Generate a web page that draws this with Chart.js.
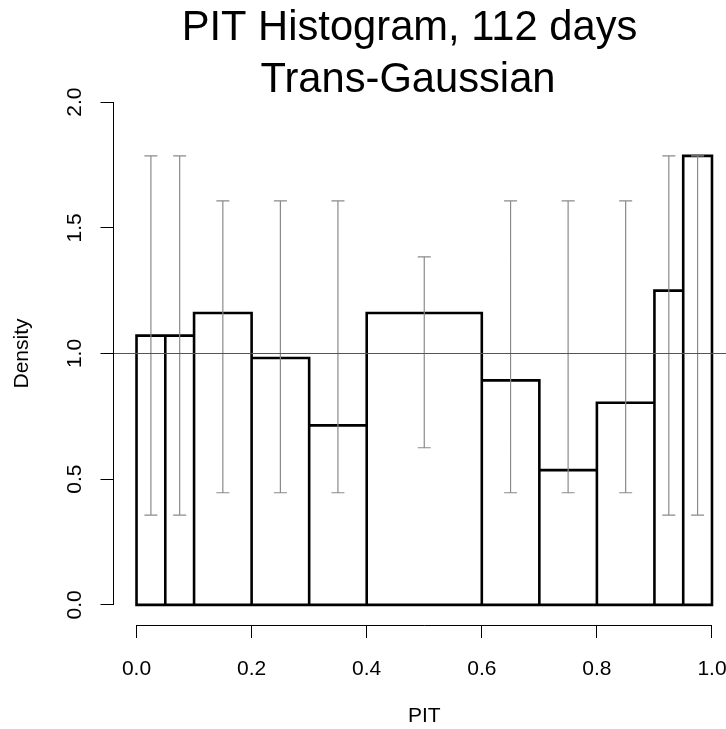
<!DOCTYPE html>
<html>
<head>
<meta charset="utf-8">
<title>PIT Histogram</title>
<script src="https://cdn.jsdelivr.net/npm/chart.js@4/dist/chart.umd.min.js"></script>
<style>
    html, body { margin: 0; padding: 0; background: #fff; overflow: hidden; }
    .pit-plot { position: relative; width: 726px; height: 729px; overflow: hidden; }
    .pit-plot canvas { position: absolute; left: 0; top: 0; }
</style>
</head>
<body>
<div class="pit-plot"><canvas id="pit" width="760" height="729"></canvas></div>
<script>
// bin edges (the bins are not all the same width)
const breaks = [0, 0.05, 0.1, 0.2, 0.3, 0.4, 0.6, 0.7, 0.8, 0.9, 0.95, 1.0]
// density of each bin
const density = [1.071, 1.071, 1.161, 0.982, 0.714, 1.161, 0.893, 0.536, 0.804, 1.25, 1.786]
// gray bands drawn at each bin centre
const bandLower = [0.357, 0.357, 0.446, 0.446, 0.446, 0.625, 0.446, 0.446, 0.446, 0.357, 0.357]
const bandUpper = [1.786, 1.786, 1.607, 1.607, 1.607, 1.384, 1.607, 1.607, 1.607, 1.786, 1.786]
const refLevel = 1
const xTicks = [0, 0.2, 0.4, 0.6, 0.8, 1.0]
const yTicks = [0, 0.5, 1.0, 1.5, 2.0]
const titleLines = ['PIT Histogram, 112 days', 'Trans-Gaussian']

const FONT = '"Liberation Sans", Arial, Helvetica, sans-serif'
const CAP_HALF = 0.0113  // half width of the band caps, in x units


/**
 * outline of every bin, walked as one path, then back along the baseline
 * @return {{x: number, y: number}[]}
 */
function histogramPath() {
    const points = []
    density.forEach((d, i) => {
        points.push({x: breaks[i], y: 0})
        points.push({x: breaks[i], y: d})
        points.push({x: breaks[i + 1], y: d})
        points.push({x: breaks[i + 1], y: 0})
    })
    points.push({x: breaks[0], y: 0})
    return points
}

/**
 * vertical band with a cap at each end, broken apart by null points
 * @return {{x: number, y: number | null}[]}
 */
function bandPath() {
    const points = []
    density.forEach((d, i) => {
        const mid = (breaks[i] + breaks[i + 1]) / 2
        points.push({x: mid, y: bandLower[i]}, {x: mid, y: bandUpper[i]}, {x: mid, y: null})
        points.push({x: mid - CAP_HALF, y: bandLower[i]}, {x: mid + CAP_HALF, y: bandLower[i]}, {x: mid, y: null})
        points.push({x: mid - CAP_HALF, y: bandUpper[i]}, {x: mid + CAP_HALF, y: bandUpper[i]}, {x: mid, y: null})
    })
    return points
}


// R style axes: the line only runs from the first tick to the last one
const axisLines = {
    id: 'axisLines',
    afterDraw(chart) {
        const {ctx, chartArea, scales: {x, y}} = chart
        ctx.save()
        ctx.strokeStyle = '#000'
        ctx.lineWidth = 1
        ctx.beginPath()
        const yb = Math.round(chartArea.bottom) + 0.5
        ctx.moveTo(x.getPixelForValue(xTicks[0]), yb)
        ctx.lineTo(x.getPixelForValue(xTicks[xTicks.length - 1]), yb)
        const xl = Math.round(chartArea.left) - 0.5
        ctx.moveTo(xl, y.getPixelForValue(yTicks[0]))
        ctx.lineTo(xl, y.getPixelForValue(yTicks[yTicks.length - 1]))
        ctx.stroke()
        ctx.restore()
    }
}

// two line main title, centred where the original has it
const mainTitle = {
    id: 'mainTitle',
    afterDraw(chart) {
        const {ctx} = chart
        ctx.save()
        ctx.fillStyle = '#000'
        ctx.font = '41.7px ' + FONT
        ctx.textAlign = 'center'
        ctx.textBaseline = 'alphabetic'
        ctx.fillText(titleLines[0], 409.5, 40)
        ctx.fillText(titleLines[1], 408, 91.5)
        ctx.restore()
    }
}


new Chart(document.getElementById('pit'), {
    type: 'scatter',
    data: {
        datasets: [
            {
                label: 'reference',
                data: [{x: -0.04, y: refLevel}, {x: 1.04, y: refLevel}],
                showLine: true,
                borderColor: '#555555',
                borderWidth: 1,
                pointRadius: 0,
            },
            {
                label: 'band',
                data: bandPath(),
                showLine: true,
                spanGaps: false,
                borderColor: '#8a8a8a',
                borderWidth: 1.2,
                pointRadius: 0,
            },
            {
                label: 'density',
                data: histogramPath(),
                showLine: true,
                borderColor: '#000',
                borderWidth: 2.6,
                borderJoinStyle: 'miter',
                borderCapStyle: 'square',
                pointRadius: 0,
                tension: 0,
            },
        ]
    },
    options: {
        responsive: false,
        animation: false,
        devicePixelRatio: 1,
        layout: {padding: {top: 82, right: 25, bottom: 0, left: 0}},
        plugins: {
            legend: {display: false},
            tooltip: {enabled: false},
        },
        scales: {
            x: {
                type: 'linear',
                min: -0.04,
                max: 1.04,
                afterBuildTicks: scale => { scale.ticks = xTicks.map(v => ({value: v})) },
                afterFit: scale => { scale.height = 104 },
                grid: {drawOnChartArea: false, drawTicks: true, tickLength: 13, color: '#000', lineWidth: 1},
                border: {display: false},
                ticks: {
                    color: '#000',
                    font: {family: FONT, size: 21},
                    padding: 19,
                    maxRotation: 0,
                    autoSkip: false,
                    callback: v => v.toFixed(1),
                },
                title: {
                    display: true,
                    text: 'PIT',
                    color: '#000',
                    font: {family: FONT, size: 21},
                    padding: {top: 0, bottom: 0},
                },
            },
            y: {
                type: 'linear',
                min: -0.08,
                max: 2.08,
                afterBuildTicks: scale => { scale.ticks = yTicks.map(v => ({value: v})) },
                afterFit: scale => { scale.width = 113.5 },
                grid: {drawOnChartArea: false, drawTicks: true, tickLength: 13, color: '#000', lineWidth: 1},
                border: {display: false},
                ticks: {
                    color: '#000',
                    font: {family: FONT, size: 21},
                    padding: 10.7,
                    minRotation: 90,
                    maxRotation: 90,
                    crossAlign: 'center',
                    autoSkip: false,
                    callback: v => v.toFixed(1),
                },
                title: {
                    display: true,
                    text: 'Density',
                    color: '#000',
                    font: {family: FONT, size: 21},
                    padding: {top: 10, bottom: 0},
                },
            },
        },
    },
    plugins: [axisLines, mainTitle],
})
</script>
</body>
</html>
